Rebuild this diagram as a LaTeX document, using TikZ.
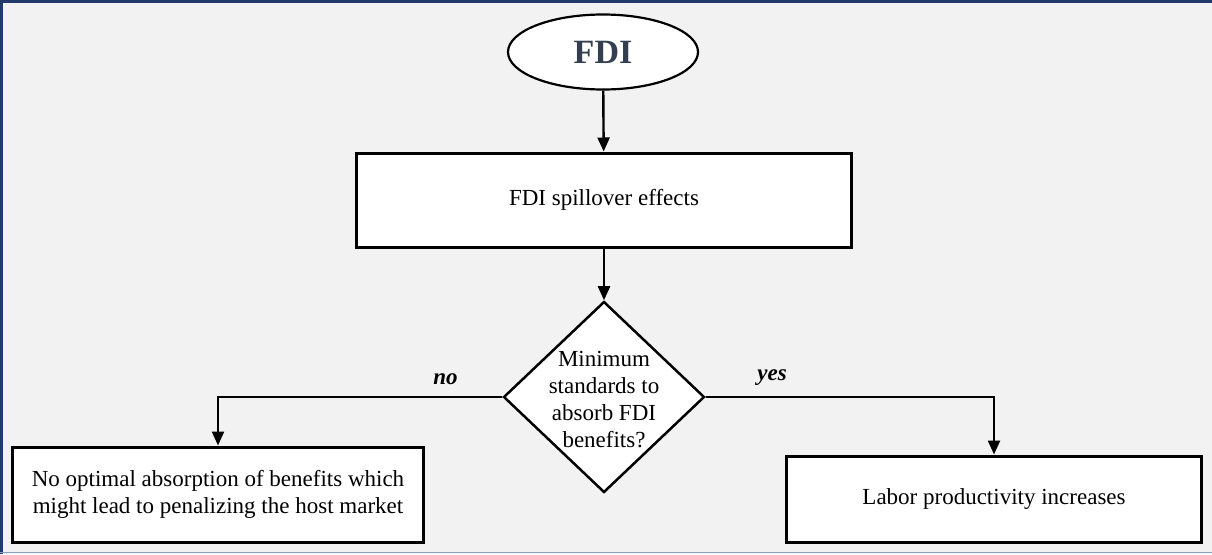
\documentclass[tikz,border=0pt]{standalone}
\usepackage{fontspec}
\setmainfont{Liberation Serif}
\usetikzlibrary{shapes.geometric,arrows.meta}
\definecolor{pagebg}{HTML}{F2F2F2}
\definecolor{fdiblue}{HTML}{333F50}
\definecolor{frameblue}{HTML}{22396B}
\definecolor{framegray}{HTML}{8FA2BF}

\begin{document}
\begin{tikzpicture}[x=1pt,y=-1pt,
   every node/.style={font=\fontsize{23}{27}\selectfont},
   startnode/.style={draw,ellipse,fill=white,line width=2.2pt,
      minimum width=190pt,minimum height=75pt,
      font=\fontsize{34}{40}\selectfont\bfseries,text=fdiblue},
   procbox/.style={draw,rectangle,fill=white,line width=3pt,align=center},
   choice/.style={draw,diamond,fill=white,line width=2.5pt,
      minimum width=201pt,minimum height=191pt,inner sep=0pt},
   flow/.style={line width=2.4pt,-{Triangle[length=14pt,width=12pt]}},
   answer/.style={font=\fontsize{23}{27}\selectfont\bfseries\itshape}]
\useasboundingbox (0,0) rectangle (1212,554);
\fill[pagebg] (0,0) rectangle (1212,554);
\draw[frameblue,line width=3pt] (1.5,554) -- (1.5,1.5) -- (1212,1.5);
\draw[framegray,line width=1.5pt] (0,552.5) -- (1212,552.5);

\node[startnode] (fdi) at (603,52) {FDI};
\node[procbox,minimum width=495pt,minimum height=94pt] (spill) at (604,200)
   {FDI spillover effects};
\node[choice,label={[align=center,yshift=-3pt]center:{Minimum\\standards to\\absorb FDI\\benefits?}}]
   (absorb) at (604,397) {};
\node[procbox,minimum width=411pt,minimum height=95pt] (nogain) at (218,494.5)
   {No optimal absorption of benefits which\\might lead to penalizing the host market};
\node[procbox,minimum width=415pt,minimum height=86pt] (labor) at (994,499)
   {Labor productivity increases};

\draw[flow] (fdi) -- (spill);
\draw[flow] (spill) -- (absorb);
\draw[flow] (absorb.west) -| node[answer,pos=0.1,anchor=base,yshift=13pt] {no} (nogain);
\draw[flow] (absorb.east) -| node[answer,pos=0.115,anchor=base,yshift=17pt] {yes} (labor);
\end{tikzpicture}
\end{document}
